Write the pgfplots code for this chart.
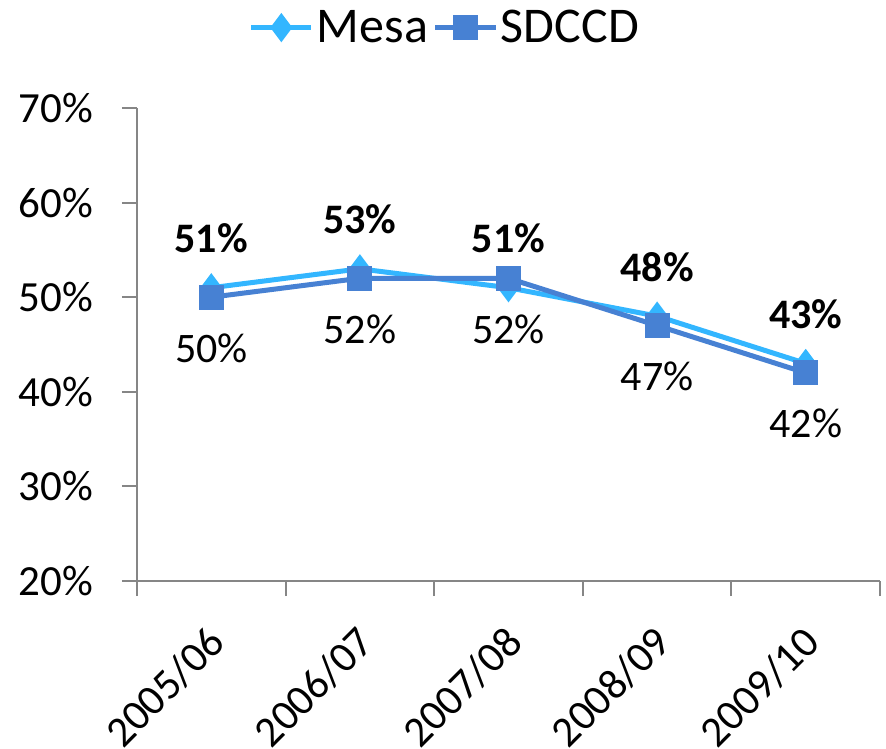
\documentclass[border=0pt]{standalone}
\usepackage{fontspec}
\setmainfont{Carlito}
\usepackage{pgfplots}
\pgfplotsset{compat=1.18}
\definecolor{mesa}{RGB}{51,182,255}
\definecolor{sdccd}{RGB}{71,129,211}
\definecolor{axgray}{RGB}{134,134,134}
\begin{document}
\begin{tikzpicture}
\begin{axis}[name=ax, scale only axis, width=371.5pt, height=236.5pt,
  xmin=-0.5, xmax=4.5, ymin=20, ymax=70,
  axis x line*=bottom, axis y line*=left,
  axis line style={draw=axgray, line width=1pt, -},
  tick align=outside,
  major tick length=7.5pt,
  tick style={draw=axgray, line width=1pt},
  xtick={-0.5,0.5,1.5,2.5,3.5,4.5},
  xticklabels={{},{},{},{},{},{}},
  extra x ticks={0,1,2,3,4},
  extra x tick labels={2005/06,2006/07,2007/08,2008/09,2009/10},
  extra x tick style={tick style={draw=none},
    xticklabel style={xshift=5.5pt, yshift=-17pt, rotate=45, anchor=east}},
  ytick={20,30,40,50,60,70},
  yticklabels={20\%,30\%,40\%,50\%,60\%,70\%},
  yticklabel style={xshift=-11pt},
  tick label style={font=\fontsize{21.5}{25}\selectfont, text=black},
  legend style={draw=none, fill=none, at={(0.415,1.17)}, anchor=center,
    legend columns=2, font=\fontsize{25}{29}\selectfont, inner sep=0pt,
    /tikz/every even column/.append style={column sep=1pt},
    nodes={inner sep=1.5pt}},
  legend image code/.code={\draw[mark repeat=2, mark phase=2] plot coordinates {(0pt,0pt)(15pt,0pt)(30pt,0pt)};},
]
\addplot[color=mesa, line width=2.5pt, mark=diamond*, mark size=5.25pt, mark options={solid},
  point meta=y,
  nodes near coords={\pgfmathprintnumber[assume math mode=true]{\pgfplotspointmeta}\%},
  every node near coord/.append style={font=\fontsize{21}{25}\selectfont\bfseries, text=black, anchor=base, yshift=17.5pt}]
  coordinates {(0,51)(1,53)(2,51)(3,48)(4,43)};
\addlegendentry{Mesa}
\addplot[color=sdccd, line width=2.5pt, mark=square*, mark size=5pt, mark options={solid},
  point meta=y,
  nodes near coords={\pgfmathprintnumber[assume math mode=true]{\pgfplotspointmeta}\%},
  every node near coord/.append style={font=\fontsize{21}{25}\selectfont, text=black, anchor=base, yshift=-32.5pt}]
  coordinates {(0,50)(1,52)(2,52)(3,47)(4,42)};
\addlegendentry{SDCCD}
\end{axis}
\pgfresetboundingbox
\path[use as bounding box] ([shift={(-68.5pt,-83.5pt)}]ax.south west) rectangle ([shift={(3pt,54pt)}]ax.north east);
\end{tikzpicture}
\end{document}
